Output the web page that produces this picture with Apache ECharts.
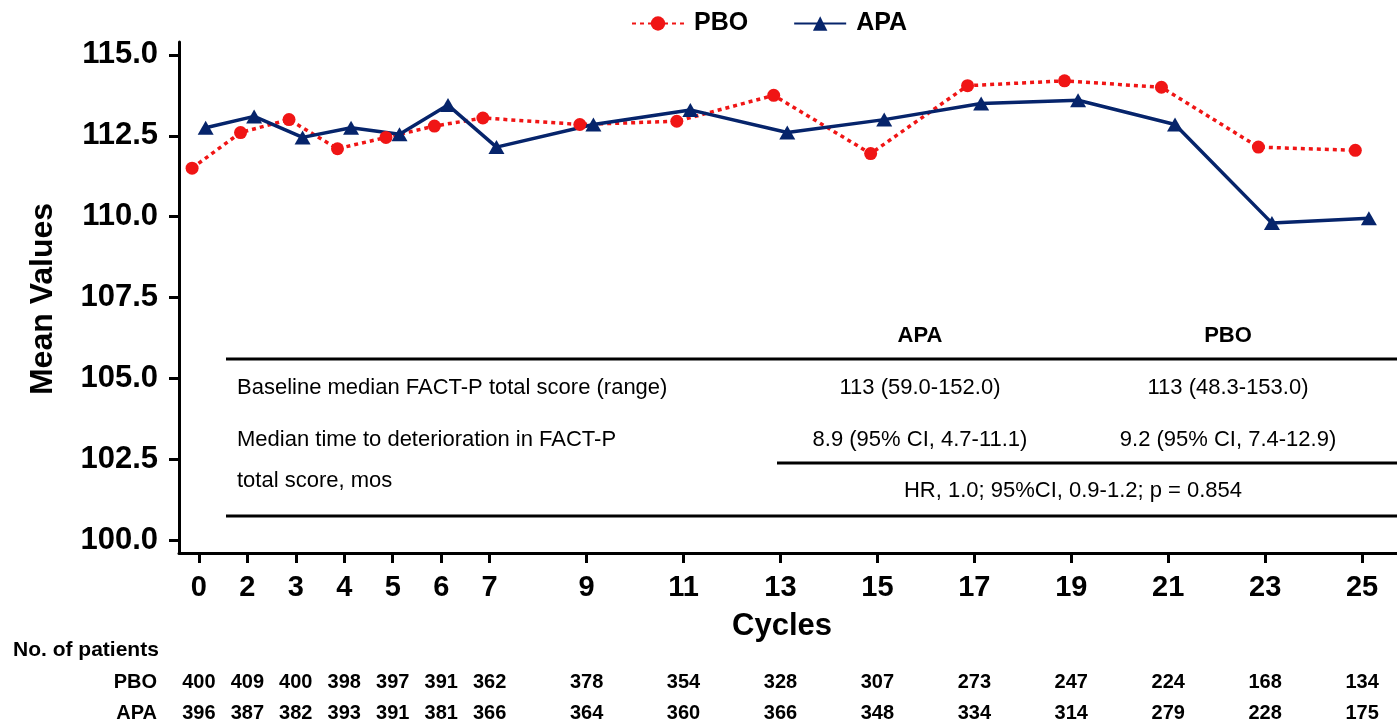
<!DOCTYPE html>
<html>
<head>
<meta charset="utf-8">
<title>FACT-P total score by cycle</title>
<script src="https://cdn.jsdelivr.net/npm/echarts@6/dist/echarts.min.js"></script>
<style>
  html, body { margin: 0; padding: 0; background: #fff; }
  #chart { width: 1397px; height: 723px; }
</style>
</head>
<body>
<div id="chart"></div>
<script>
// Treatment cycles at which FACT-P was assessed
const cycles = [0, 2, 3, 4, 5, 6, 7, 9, 11, 13, 15, 17, 19, 21, 23, 25];

// Mean FACT-P total score per cycle
const pboMeans = [111.5, 112.6, 113.0, 112.1, 112.45, 112.8, 113.05, 112.85, 112.95, 113.75, 111.95, 114.05, 114.2, 114.0, 112.15, 112.05];
const apaMeans = [112.75, 113.1, 112.45, 112.75, 112.55, 113.45, 112.15, 112.85, 113.3, 112.6, 113.0, 113.5, 113.6, 112.85, 109.8, 109.95];

// Number of patients contributing at each cycle
const pboPatients = [400, 409, 400, 398, 397, 391, 362, 378, 354, 328, 307, 273, 247, 224, 168, 134];
const apaPatients = [396, 387, 382, 393, 391, 381, 366, 364, 360, 366, 348, 334, 314, 279, 228, 175];

// Y axis tick labels
const yTicks = [100, 102.5, 105, 107.5, 110, 112.5, 115];

// Summary table
const tableHeaders = ['APA', 'PBO'];
const tableRows = [
  { label: ['Baseline median FACT-P total score (range)'], apa: '113 (59.0-152.0)', pbo: '113 (48.3-153.0)' },
  { label: ['Median time to deterioration in FACT-P', 'total score, mos'], apa: '8.9 (95% CI, 4.7-11.1)', pbo: '9.2 (95% CI, 7.4-12.9)' }
];
const hazardText = 'HR, 1.0; 95%CI, 0.9-1.2; p = 0.854';

// Cycle 1 has no visit, so the axis closes that gap: 0 sits next to 2.
const slotOf = c => (c === 0 ? 0 : c - 1);
const slots = cycles.map(slotOf);
const DODGE = 0.14; // small side-by-side offset between the two arms

const FONT = "'Liberation Sans', Arial, Helvetica, sans-serif";
const RED = '#f01515';
const NAVY = '#06246b';

const X_MIN = -0.41, X_MAX = 24.72;

function labelFor(list) {
  return v => {
    const i = slots.findIndex(s => Math.abs(s - v) < 1e-6);
    return i < 0 ? '' : String(list[i]);
  };
}

function countAxis(name, counts, offset) {
  return {
    type: 'value', gridIndex: 0, position: 'bottom', offset: offset,
    min: X_MIN, max: X_MAX,
    axisLine: { show: false, onZero: false }, axisTick: { show: false }, splitLine: { show: false },
    axisLabel: {
      customValues: slots, formatter: labelFor(counts), margin: 0,
      verticalAlign: 'middle', fontFamily: FONT, fontWeight: 'bold', fontSize: 20, color: '#000'
    },
    name: name, nameLocation: 'start', nameGap: 22,
    nameTextStyle: { fontFamily: FONT, fontWeight: 'bold', fontSize: 20, color: '#000', verticalAlign: 'middle' }
  };
}

const chart = echarts.init(document.getElementById('chart'), null, { renderer: 'canvas' });

const graphics = [];
// Y axis title
graphics.push({
  type: 'text', x: 43, y: 299, rotation: Math.PI / 2,
  style: { text: 'Mean Values', font: 'bold 32px ' + FONT, fill: '#000', align: 'center', verticalAlign: 'middle' }
});
// X axis title
graphics.push({
  type: 'text', x: 782, y: 626,
  style: { text: 'Cycles', font: 'bold 31px ' + FONT, fill: '#000', align: 'center', verticalAlign: 'middle' }
});
// Patient count caption
graphics.push({
  type: 'text', x: 13, y: 650,
  style: { text: 'No. of patients', font: 'bold 21px ' + FONT, fill: '#000', align: 'left', verticalAlign: 'middle' }
});

// Summary table in the plot area
const colX = [920, 1228];
const textFont = '22px ' + FONT;
tableHeaders.forEach((h, i) => graphics.push({
  type: 'text', x: colX[i], y: 336,
  style: { text: h, font: 'bold 22px ' + FONT, fill: '#000', align: 'center', verticalAlign: 'middle' }
}));
const rowY = [388, 440];
tableRows.forEach((r, i) => {
  r.label.forEach((line, k) => graphics.push({
    type: 'text', x: 237, y: rowY[i] + k * 41,
    style: { text: line, font: textFont, fill: '#000', align: 'left', verticalAlign: 'middle' }
  }));
  graphics.push({ type: 'text', x: colX[0], y: rowY[i], style: { text: r.apa, font: textFont, fill: '#000', align: 'center', verticalAlign: 'middle' } });
  graphics.push({ type: 'text', x: colX[1], y: rowY[i], style: { text: r.pbo, font: textFont, fill: '#000', align: 'center', verticalAlign: 'middle' } });
});
graphics.push({
  type: 'text', x: 1073, y: 491,
  style: { text: hazardText, font: textFont, fill: '#000', align: 'center', verticalAlign: 'middle' }
});
[[226, 359, 1397], [777, 463, 1397], [226, 516, 1397]].forEach(([x1, y, x2]) => graphics.push({
  type: 'line', shape: { x1: x1, y1: y, x2: x2, y2: y },
  style: { stroke: '#000', lineWidth: 3 }
}));

chart.setOption({
  animation: false,
  backgroundColor: '#fff',
  textStyle: { fontFamily: FONT },
  legend: {
    data: ['PBO', 'APA'],
    left: 626, top: 6,
    itemWidth: 52, itemHeight: 18, itemGap: 45,
    textStyle: { fontFamily: FONT, fontWeight: 'bold', fontSize: 25, color: '#000', padding: [0, 0, 0, 5] }
  },
  grid: { left: 179, right: 0, top: 42, bottom: 170, containLabel: false },
  xAxis: [
    {
      type: 'value', min: X_MIN, max: X_MAX,
      axisLine: { onZero: false, lineStyle: { color: '#000', width: 3 } },
      axisTick: { customValues: slots, length: 10, lineStyle: { color: '#000', width: 3 } },
      splitLine: { show: false },
      axisLabel: {
        customValues: slots, formatter: labelFor(cycles), margin: 20,
        fontFamily: FONT, fontWeight: 'bold', fontSize: 29, color: '#000'
      }
    },
    countAxis('PBO', pboPatients, 129),
    countAxis('APA', apaPatients, 160)
  ],
  yAxis: {
    type: 'value', min: 99.6, max: 115.4,
    axisLine: { show: true, onZero: false, lineStyle: { color: '#000', width: 3 } },
    axisTick: { show: true, customValues: yTicks, length: 10, lineStyle: { color: '#000', width: 3 } },
    splitLine: { show: false },
    axisLabel: {
      customValues: yTicks, formatter: v => v.toFixed(1), margin: 21,
      fontFamily: FONT, fontWeight: 'bold', fontSize: 31, color: '#000'
    }
  },
  series: [
    {
      name: 'PBO', type: 'line', xAxisIndex: 0,
      data: cycles.map((c, i) => [slotOf(c) - DODGE, pboMeans[i]]),
      symbol: 'circle', symbolSize: 13,
      lineStyle: { color: RED, width: 3.5, type: [4, 4] },
      itemStyle: { color: RED }
    },
    {
      name: 'APA', type: 'line', xAxisIndex: 0,
      data: cycles.map((c, i) => [slotOf(c) + DODGE, apaMeans[i]]),
      symbol: 'triangle', symbolSize: [16, 14],
      lineStyle: { color: NAVY, width: 3.5 },
      itemStyle: { color: NAVY }
    }
  ],
  graphic: graphics
});
</script>
</body>
</html>
